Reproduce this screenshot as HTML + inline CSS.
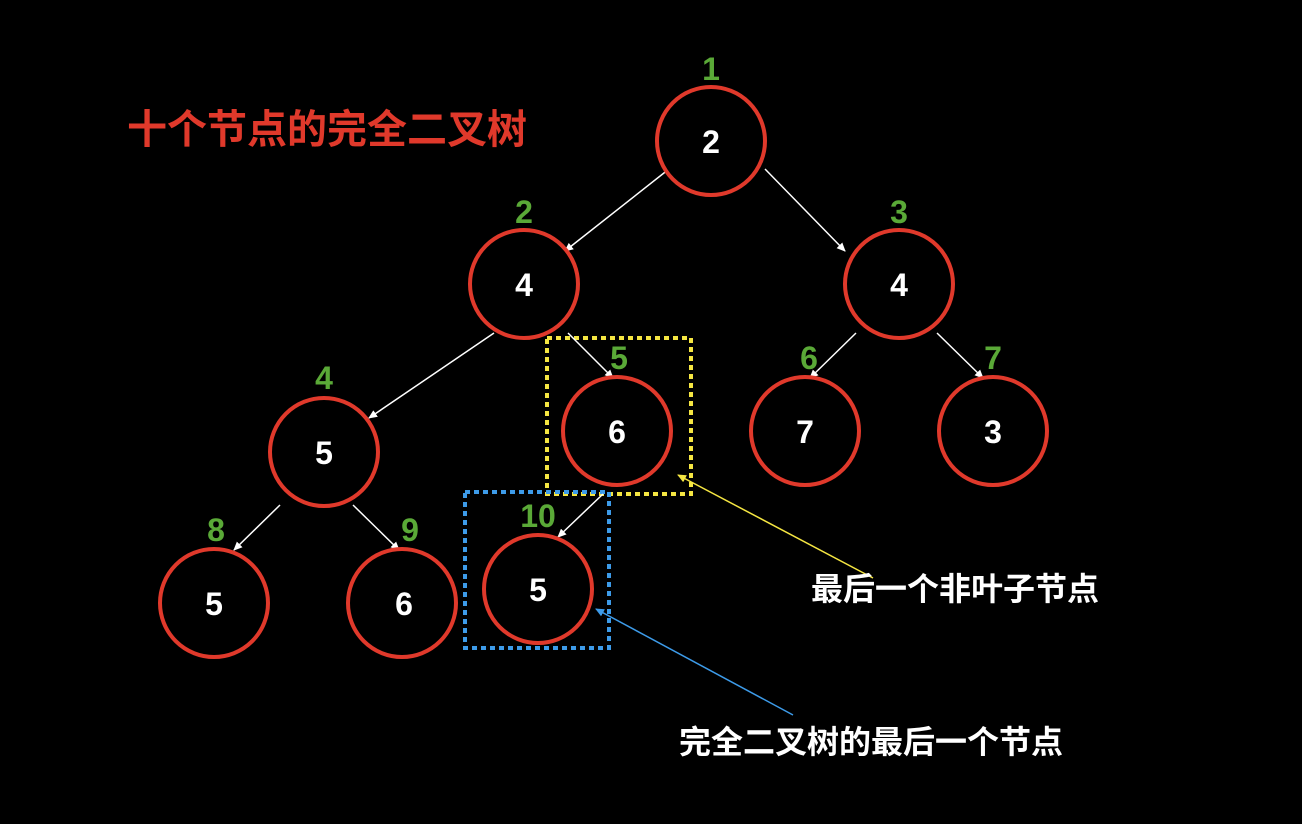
<!DOCTYPE html>
<html><head><meta charset="utf-8"><style>
html,body{margin:0;padding:0;background:#000;}
svg{display:block}
text{font-family:"Liberation Sans","Noto Sans CJK SC",sans-serif;font-weight:bold}
</style></head><body>
<svg width="1302" height="824" viewBox="0 0 1302 824" xmlns="http://www.w3.org/2000/svg">
<defs>
<marker id="aw" markerWidth="10" markerHeight="10" refX="8" refY="5" orient="auto" markerUnits="userSpaceOnUse"><path d="M0,1 L9,5 L0,9 Z" fill="#fff"/></marker>
<marker id="ay" markerWidth="10" markerHeight="10" refX="8" refY="5" orient="auto" markerUnits="userSpaceOnUse"><path d="M0,1 L9,5 L0,9 Z" fill="#f5e642"/></marker>
<marker id="ab" markerWidth="10" markerHeight="10" refX="8" refY="5" orient="auto" markerUnits="userSpaceOnUse"><path d="M0,1 L9,5 L0,9 Z" fill="#3d9be9"/></marker>
</defs>
<text x="127" y="143" font-size="40" fill="#e0392b">十个节点的完全二叉树</text>
<rect x="547" y="338" width="144" height="156" fill="none" stroke="#f5e642" stroke-width="4" stroke-dasharray="5,4"/>
<rect x="465" y="492" width="144" height="156" fill="none" stroke="#3d9be9" stroke-width="4" stroke-dasharray="5,4"/>
<g stroke="#fff" stroke-width="1.5" marker-end="url(#aw)">
<line x1="669" y1="169" x2="565" y2="251"/>
<line x1="765" y1="169" x2="845" y2="251"/>
<line x1="494" y1="333" x2="369" y2="418"/>
<line x1="568" y1="333" x2="613" y2="378"/>
<line x1="856" y1="333" x2="810" y2="378"/>
<line x1="937" y1="333" x2="983" y2="378"/>
<line x1="280" y1="505" x2="234" y2="550"/>
<line x1="353" y1="505" x2="399" y2="550"/>
<line x1="603" y1="494" x2="558" y2="537"/>
</g>
<line x1="873" y1="578" x2="678" y2="475" stroke="#f5e642" stroke-width="1.5" marker-end="url(#ay)"/>
<line x1="793" y1="715" x2="596" y2="609" stroke="#3d9be9" stroke-width="1.5" marker-end="url(#ab)"/>
<g fill="#000" stroke="#e0392b" stroke-width="4">
<circle cx="711" cy="141" r="54"/>
<circle cx="524" cy="284" r="54"/>
<circle cx="899" cy="284" r="54"/>
<circle cx="324" cy="452" r="54"/>
<circle cx="617" cy="431" r="54"/>
<circle cx="805" cy="431" r="54"/>
<circle cx="993" cy="431" r="54"/>
<circle cx="214" cy="603" r="54"/>
<circle cx="402" cy="603" r="54"/>
<circle cx="538" cy="589" r="54"/>
</g>
<g fill="#fff" font-size="32" text-anchor="middle">
<text x="711" y="153">2</text>
<text x="524" y="296">4</text>
<text x="899" y="296">4</text>
<text x="324" y="464">5</text>
<text x="617" y="443">6</text>
<text x="805" y="443">7</text>
<text x="993" y="443">3</text>
<text x="214" y="615">5</text>
<text x="404" y="615">6</text>
<text x="538" y="601">5</text>
</g>
<g fill="#5aa937" font-size="32" text-anchor="middle">
<text x="711" y="80">1</text>
<text x="524" y="223">2</text>
<text x="899" y="223">3</text>
<text x="324" y="389">4</text>
<text x="619" y="369">5</text>
<text x="809" y="369">6</text>
<text x="993" y="369">7</text>
<text x="216" y="541">8</text>
<text x="410" y="541">9</text>
<text x="538" y="527">10</text>
</g>
<text x="811" y="600" font-size="32" fill="#fff">最后一个非叶子节点</text>
<text x="679" y="753" font-size="32" fill="#fff">完全二叉树的最后一个节点</text>
</svg>
</body></html>
